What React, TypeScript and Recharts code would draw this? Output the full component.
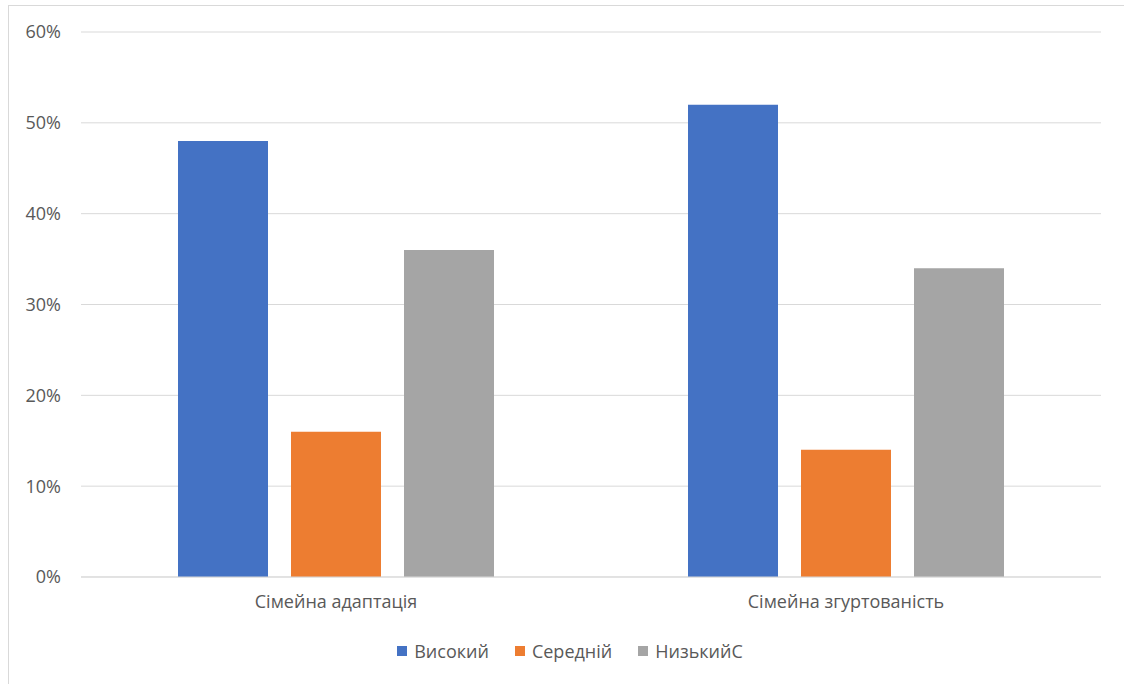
import React from 'react';
import { BarChart, Bar, XAxis, YAxis, CartesianGrid } from 'recharts';

const categories = ['Сімейна адаптація', 'Сімейна згуртованість'];
const seriesNames = ['Високий', 'Середній', 'НизькийС'];
const seriesColors = ['#4472C4', '#ED7D31', '#A5A5A5'];
const highValues = [0.48, 0.52];
const midValues = [0.16, 0.14];
const lowValues = [0.36, 0.34];
const yTicks = [0, 0.1, 0.2, 0.3, 0.4, 0.5, 0.6];

const data = categories.map((name, i) => ({
  name,
  high: highValues[i],
  mid: midValues[i],
  low: lowValues[i],
}));
const keys = ['high', 'mid', 'low'];

const font = '"Open Sans", "Noto Sans", sans-serif';
const textColor = '#595959';

export default function App() {
  return (
    <div style={{ position: 'absolute', left: 0, top: 0, width: 1124, height: 684, overflow: 'hidden', background: '#fff' }}>
      <div style={{ position: 'absolute', left: 8, top: 5, width: 1140, height: 720, border: '1px solid #d9d9d9', boxSizing: 'border-box' }} />
      <div style={{ position: 'absolute', left: 0, top: 0 }}>
        <BarChart
          width={1124}
          height={684}
          data={data}
          margin={{ top: 32, right: 23, bottom: 77, left: 0 }}
          barGap={23}
          barSize={90}
        >
          <CartesianGrid vertical={false} stroke="#d9d9d9" strokeWidth={1} />
          <XAxis
            dataKey="name"
            height={30}
            axisLine={{ stroke: '#d9d9d9' }}
            tickLine={false}
            tickMargin={12}
            tick={{ fill: textColor, fontSize: 18, fontFamily: font }}
          />
          <YAxis
            width={81}
            domain={[0, 0.6]}
            ticks={yTicks}
            axisLine={false}
            tickLine={false}
            tickSize={0}
            tickMargin={20}
            tickFormatter={(v: number) => `${Math.round(v * 100)}%`}
            tick={{ fill: textColor, fontSize: 18, fontFamily: font }}
          />
          {keys.map((k, i) => (
            <Bar key={k} dataKey={k} name={seriesNames[i]} fill={seriesColors[i]} isAnimationActive={false} />
          ))}
        </BarChart>
      </div>
      <div
        style={{
          position: 'absolute',
          left: 0,
          top: 638,
          width: 1140,
          display: 'flex',
          justifyContent: 'center',
          fontFamily: font,
          fontSize: 18,
          color: textColor,
          lineHeight: '26px',
        }}
      >
        {seriesNames.map((n, i) => (
          <div key={n} style={{ display: 'flex', alignItems: 'center', margin: '0 13px' }}>
            <span style={{ display: 'inline-block', width: 10, height: 10, background: seriesColors[i], marginRight: 7 }} />
            <span>{n}</span>
          </div>
        ))}
      </div>
    </div>
  );
}
